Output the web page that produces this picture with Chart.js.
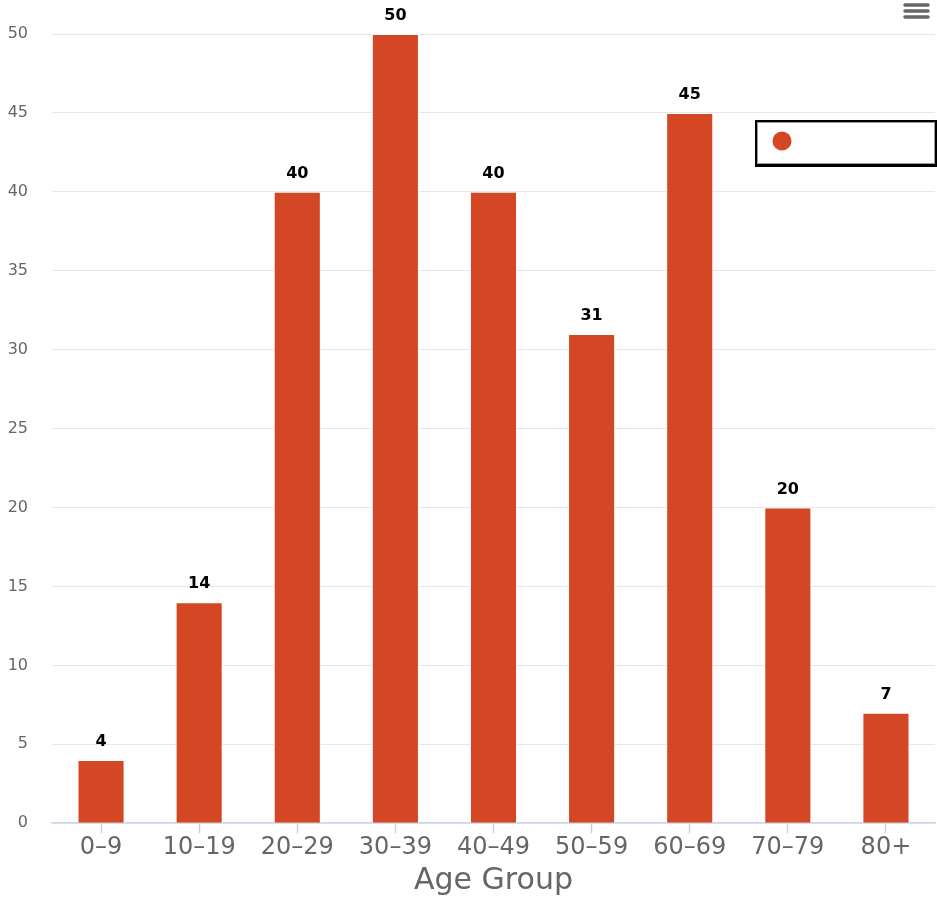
<!DOCTYPE html>
<html>
<head>
<meta charset="utf-8">
<script src="https://cdn.jsdelivr.net/npm/chart.js@4/dist/chart.umd.min.js"></script>
<style>
  html, body { margin: 0; padding: 0; background: #fff; }
  #wrap { width: 937px; height: 899px; position: relative; }
</style>
</head>
<body>
<div id="wrap"><canvas id="myChart"></canvas></div>
<script>
// Datos
const ageGroups = ['0–9', '10–19', '20–29', '30–39', '40–49', '50–59', '60–69', '70–79', '80+'];
const counts = [4, 14, 40, 50, 40, 31, 45, 20, 7];
const yTicks = [0, 5, 10, 15, 20, 25, 30, 35, 40, 45, 50];

const barColor = '#d44724';
const fontFamily = '"DejaVu Sans", Verdana, sans-serif';

// etiquetas encima de cada barra
const valueLabels = {
    id: 'valueLabels',
    afterDatasetsDraw(chart) {
        const ctx = chart.ctx;
        const meta = chart.getDatasetMeta(0);
        ctx.save();
        ctx.font = 'bold 16px ' + fontFamily;
        ctx.fillStyle = '#000';
        ctx.textAlign = 'center';
        ctx.textBaseline = 'bottom';
        meta.data.forEach((bar, i) => {
            ctx.fillText(chart.data.datasets[0].data[i], bar.x, bar.y - 10);
        });
        ctx.restore();
    }
};

// leyenda con caja y boton de menu
const extras = {
    id: 'extras',
    afterDraw(chart) {
        const ctx = chart.ctx;
        ctx.save();
        // menu
        ctx.strokeStyle = '#666';
        ctx.lineWidth = 3.5;
        ctx.lineCap = 'round';
        [5, 11, 17].forEach(y => {
            ctx.beginPath();
            ctx.moveTo(905, y);
            ctx.lineTo(928, y);
            ctx.stroke();
        });
        // caja de la leyenda
        const bx = 757, by = 122, bw = 178, bh = 42;
        ctx.fillStyle = '#000';
        ctx.fillRect(bx - 2, by - 2, bw + 4, bh + 5);
        ctx.fillStyle = '#fff';
        ctx.fillRect(bx, by, bw, bh);
        ctx.strokeStyle = '#999';
        ctx.lineWidth = 1;
        ctx.strokeRect(bx + 0.5, by + 0.5, bw - 1, bh - 1);
        ctx.fillStyle = barColor;
        ctx.beginPath();
        ctx.arc(782, 141, 9.5, 0, Math.PI * 2);
        ctx.fill();
        ctx.restore();
    }
};

const ctx = document.getElementById('myChart').getContext('2d');
const myChart = new Chart(ctx, {
    type: 'bar',
    data: {
        labels: ageGroups,
        datasets: [{
            label: '',
            data: counts,
            backgroundColor: barColor,
            borderColor: '#ffffff',
            borderWidth: 1,
            categoryPercentage: 1,
            barPercentage: 0.48
        }]
    },
    options: {
        responsive: true,
        maintainAspectRatio: false,
        animation: false,
        layout: {
            padding: { left: 0, right: 2, top: 34, bottom: 0 }
        },
        plugins: {
            legend: { display: false },
            tooltip: { enabled: false }
        },
        scales: {
            x: {
                grid: {
                    offset: false,
                    drawOnChartArea: false,
                    drawTicks: true,
                    tickLength: 10,
                    tickWidth: 1.5,
                    tickColor: '#c4d0e8',
                    color: '#ccd6eb'
                },
                border: { color: '#ccd6eb', width: 1.5 },
                ticks: {
                    color: '#666',
                    font: { family: fontFamily, size: 24 },
                    padding: 0,
                    maxRotation: 0
                },
                title: {
                    display: true,
                    text: 'Age Group',
                    color: '#666',
                    font: { family: fontFamily, size: 30 },
                    padding: { top: 1, bottom: 0 }
                }
            },
            y: {
                min: 0,
                max: 50,
                afterBuildTicks: axis => { axis.ticks = yTicks.map(v => ({ value: v })); },
                afterFit: axis => { axis.width = 52; },
                grid: { color: '#e6e6e6', drawTicks: false },
                border: { display: false },
                ticks: {
                    color: '#666',
                    font: { family: fontFamily, size: 16 },
                    padding: 24
                }
            }
        }
    },
    plugins: [valueLabels, extras]
});
</script>
</body>
</html>
